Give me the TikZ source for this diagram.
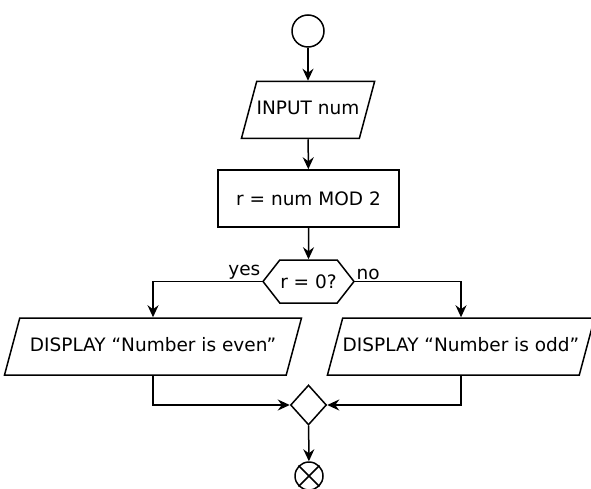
\documentclass[tikz,border=0pt]{standalone}
\usepackage{fontspec}
\setmainfont{DejaVu Sans}
\usetikzlibrary{shapes.geometric,shapes.symbols,arrows.meta}

\begin{document}
\begin{tikzpicture}[x=1pt,y=-1pt,line width=1.5pt,
    font=\fontsize{18.5}{22}\selectfont,
    flow/.style={-{Stealth[length=12pt,width=11pt,inset=4pt]}},
    io/.style={draw,trapezium,trapezium left angle=75,trapezium right angle=105,
      trapezium stretches body,text height=13pt,text depth=3pt,inner ysep=20.5pt,inner xsep=0pt},
    proc/.style={draw,rectangle,minimum width=181pt,minimum height=57pt}]
    \useasboundingbox (0,0) rectangle (591,489);
    % start and input
    \node[draw,circle,minimum size=32pt,inner sep=0pt] (start) at (308,31) {};
    \node[io,minimum width=130pt] (input) at (308,110) {INPUT num};
    \node[proc] (calc) at (308.5,198.5) {r = num MOD 2};
    % decision
    \node[draw,signal,signal to=east and west,signal pointer angle=104,
      minimum width=91pt,minimum height=43pt,inner sep=0pt] (test) at (308.5,281.5) {r = 0?};
    \node[io,minimum width=297pt] (even) at (153,346.5) {DISPLAY “Number is even”};
    \node[io,minimum width=264pt] (odd) at (461,346.5) {DISPLAY “Number is odd”};
    % merge and end
    \node[draw,diamond,minimum width=36pt,minimum height=40pt,inner sep=0pt] (merge) at (308.5,405) {};
    \node[draw,circle,minimum size=28pt,inner sep=0pt] (stop) at (309,476) {};
    \draw (stop.north west) -- (stop.south east);
    \draw (stop.north east) -- (stop.south west);
    \draw[flow] (start) -- (input);
    \draw[flow] (input) -- (calc);
    \draw[flow] (calc) -- (test);
    \draw[flow] (test.west) node[above left,inner sep=1pt] {yes} -| (even.north);
    \draw[flow] (test.east) node[above right,inner sep=1pt] {no} -| (odd.north);
    \draw[flow] (even.south) |- (merge.west);
    \draw[flow] (odd.south) |- (merge.east);
    \draw[flow] (merge) -- (stop);
\end{tikzpicture}
\end{document}
